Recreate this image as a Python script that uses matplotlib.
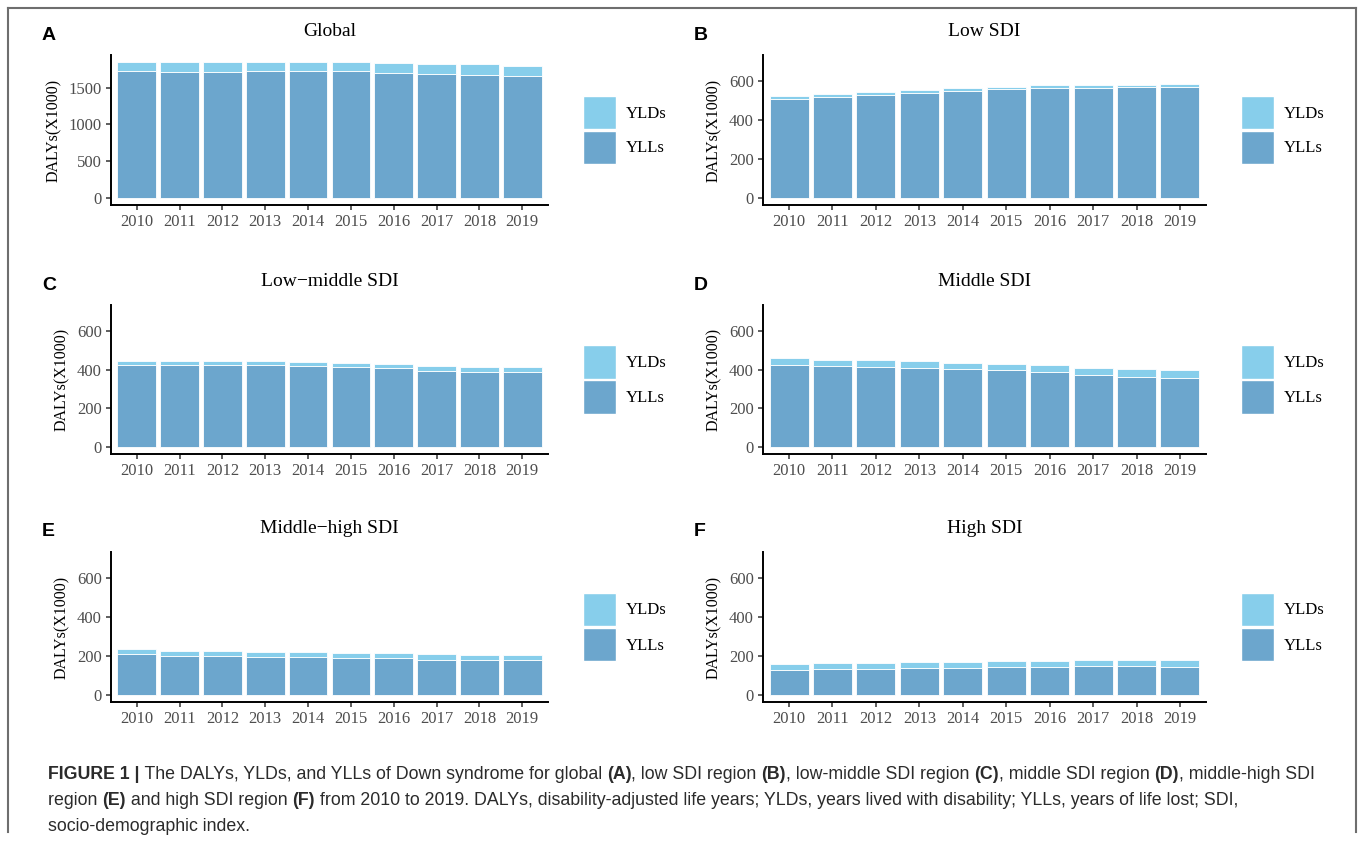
import numpy as np
import matplotlib
matplotlib.use('Agg')
import matplotlib.pyplot as plt
from matplotlib import font_manager
from matplotlib.patches import Patch
from matplotlib.lines import Line2D

# data (DALYs x1000)
years = ['2010', '2011', '2012', '2013', '2014', '2015', '2016', '2017', '2018', '2019']

global_ylls = [1720, 1714, 1718, 1727, 1723, 1727, 1705, 1682, 1668, 1659]
global_ylds = [130, 127, 127, 123, 127, 123, 131, 141, 146, 141]

low_ylls = [511, 520, 530, 540, 549, 559, 564, 564, 568, 568]
low_ylds = [12, 13, 14, 14, 14, 14, 16, 16, 15, 17]

lowmid_ylls = [427, 425, 422, 422, 417, 415, 407, 396, 389, 388]
lowmid_ylds = [19, 21, 22, 22, 22, 21, 22, 24, 26, 25]

mid_ylls = [425, 419, 415, 410, 403, 398, 386, 374, 364, 358]
mid_ylds = [35, 32, 33, 34, 34, 34, 36, 36, 39, 40]

midhigh_ylls = [209, 202, 199, 197, 194, 192, 189, 182, 182, 180]
midhigh_ylds = [26, 26, 26, 26, 26, 26, 25, 27, 26, 26]

high_ylls = [130, 132, 134, 137, 141, 144, 146, 147, 147, 146]
high_ylds = [31, 31, 32, 31, 30, 29, 31, 31, 31, 32]

titles = ['Global', 'Low SDI', 'Low\u2212middle SDI', 'Middle SDI',
          'Middle\u2212high SDI', 'High SDI']
letters = ['A', 'B', 'C', 'D', 'E', 'F']
panels = [(global_ylls, global_ylds), (low_ylls, low_ylds),
          (lowmid_ylls, lowmid_ylds), (mid_ylls, mid_ylds),
          (midhigh_ylls, midhigh_ylds), (high_ylls, high_ylds)]

c_yll = '#6CA6CD'
c_yld = '#87CEEB'

W, H = 1358, 841
fig = plt.figure(figsize=(W / 100, H / 100), dpi=100)

def rect(x0, y0, x1, y1):
    return [x0 / W, 1 - y1 / H, (x1 - x0) / W, (y1 - y0) / H]

cols = [(111, 548), (763, 1206)]
rows = [(55, 205), (305, 454), (552, 702)]

serif = 'Liberation Serif'

for i, (ylls, ylds) in enumerate(panels):
    r, c = divmod(i, 2)
    x0, x1 = cols[c]
    y0, y1 = rows[r]
    ax = fig.add_axes(rect(x0, y0, x1, y1))
    x = np.arange(len(years))
    ax.bar(x, ylls, width=0.9, color=c_yll, edgecolor='white', linewidth=0.6)
    ax.bar(x, ylds, bottom=ylls, width=0.9, color=c_yld, edgecolor='white', linewidth=0.6)
    ax.set_xlim(-0.6, len(years) - 0.4)
    if i == 0:
        top = max(np.add(ylls, ylds))
        ax.set_ylim(-0.05 * top, top * 1.05)
        ax.set_yticks([0, 500, 1000, 1500])
    else:
        ax.set_ylim(-36, 735)
        ax.set_yticks([0, 200, 400, 600])
    ax.set_xticks(x)
    ax.set_xticklabels(years)
    for s in ['top', 'right']:
        ax.spines[s].set_visible(False)
    for s in ['left', 'bottom']:
        ax.spines[s].set_linewidth(1.4)
        ax.spines[s].set_color('black')
    ax.tick_params(length=3.5, width=1.1, color='#333333', labelcolor='#4D4D4D',
                   labelsize=12, pad=3)
    for lab in ax.get_xticklabels() + ax.get_yticklabels():
        lab.set_family(serif)
    ax.set_ylabel('DALYs(X1000)', family=serif, fontsize=11.5, labelpad=5)

    ax.set_title(titles[i], family=serif, fontsize=14, pad=14)
    fig.text((x0 - 69) / W, 1 - (y0 - 20) / H, letters[i], fontsize=14,
             fontweight='bold', family='Liberation Sans', va='center')

    handles = [Patch(facecolor=c_yld, edgecolor='white', label='YLDs'),
               Patch(facecolor=c_yll, edgecolor='white', label='YLLs')]
    ax.legend(handles=handles, loc='center left',
              bbox_to_anchor=(1 + 35 / (x1 - x0), 0.5), frameon=False,
              prop={'family': serif, 'size': 12}, handlelength=1.95,
              handleheight=2.7, labelspacing=0.1, handletextpad=0.6,
              borderpad=0, borderaxespad=0)

# outer frame
for xs, ys in [((8, 8), (8, 832)), ((8, 1356), (8, 8)), ((1356, 1356), (8, 832))]:
    fig.add_artist(Line2D([v / W for v in xs], [1 - v / H for v in ys],
                          color='#6E6E6E', lw=1.5, transform=fig.transFigure))

# caption
cap_lines = [
    [('FIGURE 1 |', True), (' The DALYs, YLDs, and YLLs of Down syndrome for global ', False),
     ('(A)', True), (', low SDI region ', False), ('(B)', True),
     (', low-middle SDI region ', False), ('(C)', True), (', middle SDI region ', False),
     ('(D)', True), (', middle-high SDI', False)],
    [('region ', False), ('(E)', True), (' and high SDI region ', False), ('(F)', True),
     (' from 2010 to 2019. DALYs, disability-adjusted life years; YLDs, years lived with '
      'disability; YLLs, years of life lost; SDI,', False)],
    [('socio-demographic index.', False)],
]
names = {f.name for f in font_manager.fontManager.ttflist}
cap_font = 'Liberation Sans Narrow' if 'Liberation Sans Narrow' in names else 'Liberation Sans'
renderer = fig.canvas.get_renderer()

def draw_line(parts, xp, yb, size):
    made = []
    for txt, bold in parts:
        t = fig.text(xp / W, 1 - yb / H, txt, fontsize=size,
                     fontweight='bold' if bold else 'normal',
                     family=cap_font, va='baseline', color='#2B2B2B')
        made.append(t)
        xp += t.get_window_extent(renderer).width
    return made, xp

# fit first line to the width it takes in the reference
probe, xend = draw_line(cap_lines[0], 48, 778, 12)
cap_size = 12 * (1318 - 48) / (xend - 48)
cap_size = min(cap_size, 13.5)
for t in probe:
    t.remove()
for k, parts in enumerate(cap_lines):
    draw_line(parts, 48, 779 + 26 * k, cap_size)

fig.savefig('out.png', dpi=100)
